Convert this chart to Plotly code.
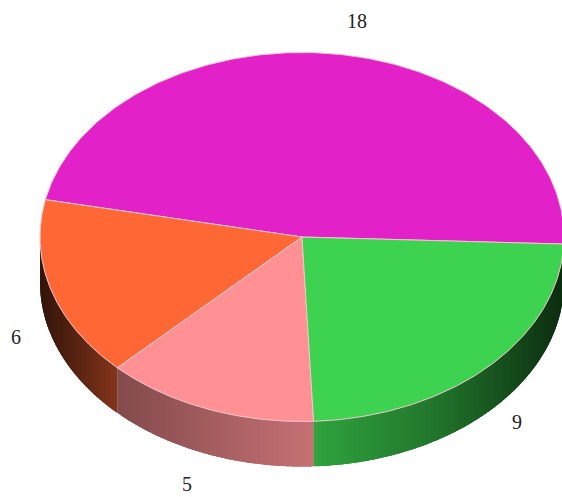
import math
import numpy as np
import plotly.graph_objects as go

# Data
values = [18, 6, 5, 9]
labels = ["18", "6", "5", "9"]
colors = ["#E221C9", "#FF6734", "#FF9195", "#3DD24F"]
label_x = [357, 16, 187, 517]
label_y = [23, 339, 486, 424]

# Geometry / style of the tilted disc, in pixel-like axis units
CX, CY, RX, RY, DEPTH = 302, 237, 262, 184.5, 45
START_DEG = -2.2
SHADE_X = [40, 118, 314, 440, 562]
SHADE_F = [0.2, 0.52, 0.78, 0.55, 0.22]
W, H = 562, 497


def ex(a):
    return CX + RX * np.cos(np.radians(a))


def ey(a):
    return CY - RY * np.sin(np.radians(a))


def shade(hex_color, f):
    r, g, b = (int(hex_color[i:i + 2], 16) for i in (1, 3, 5))
    return f"rgb({int(r * f)},{int(g * f)},{int(b * f)})"


fig = go.Figure()
total = sum(values)
a0 = START_DEG
spans = []
for v, c in zip(values, colors):
    a1 = a0 + 360 * v / total
    spans.append((a0, a1, c))
    a0 = a1

# side walls (front half only), painted in overlapping strips for the gradient
for a0, a1, c in spans:
    lo, hi = max(a0, 180), min(a1, 360)
    if hi <= lo:
        continue
    n = max(2, int(math.ceil((hi - lo) / 1.0)))
    edges = np.linspace(lo, hi, n + 1)
    for s, e in zip(edges[:-1], edges[1:]):
        arc = np.linspace(s, hi if s + 2.5 > hi else s + 2.5, 6)
        xs = np.concatenate([ex(arc), ex(arc[::-1])])
        ys = np.concatenate([ey(arc), ey(arc[::-1]) + DEPTH])
        f = float(np.interp(ex((s + e) / 2), SHADE_X, SHADE_F))
        col = shade(c, f)
        fig.add_trace(go.Scatter(x=xs, y=ys, mode="none", fill="toself", fillcolor=col,
                                 hoverinfo="skip", showlegend=False))

# top faces
for a0, a1, c in spans:
    arc = np.linspace(a0, a1, 200)
    xs = np.concatenate([[CX], ex(arc), [CX]])
    ys = np.concatenate([[CY], ey(arc), [CY]])
    fig.add_trace(go.Scatter(x=xs, y=ys, mode="lines", fill="toself", fillcolor=c,
                             line=dict(color="#F0C4CC", width=1), hoverinfo="skip", showlegend=False))

# value labels
fig.add_trace(go.Scatter(x=label_x, y=label_y, mode="text", text=labels,
                         textposition="middle center", cliponaxis=False,
                         textfont=dict(family="Liberation Serif", size=20, color="#222222"),
                         hoverinfo="skip", showlegend=False))

fig.update_xaxes(range=[0, W], visible=False, fixedrange=True)
fig.update_yaxes(range=[H, 0], visible=False, fixedrange=True)
fig.update_layout(width=W, height=H, margin=dict(l=0, r=0, t=0, b=0),
                  paper_bgcolor="white", plot_bgcolor="white", showlegend=False)
fig.write_html("out.html", config={"displayModeBar": False},
               post_script="document.body.style.margin='0';document.body.style.overflow='hidden';")
